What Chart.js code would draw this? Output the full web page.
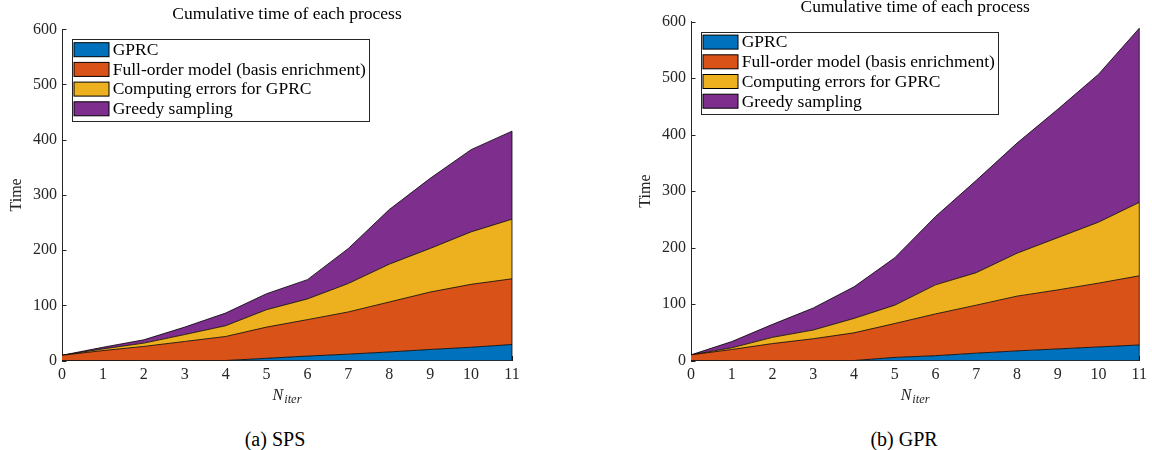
<!DOCTYPE html>
<html>
<head>
<meta charset="utf-8">
<script src="https://cdn.jsdelivr.net/npm/chart.js@4.4.1/dist/chart.umd.min.js"></script>
<style>
  html, body { margin: 0; padding: 0; background: #fff; }
  #fig { position: relative; width: 1152px; height: 450px; overflow: hidden; }
  .panel { position: absolute; top: 0; width: 576px; height: 410px; }
  .panel canvas { display: block; }
  .cap { position: absolute; top: 428px; height: 22px; line-height: 22px;
         font: 20px "Liberation Serif", serif; color: #000; white-space: nowrap;
         transform: translateX(-50%); }
</style>
</head>
<body>
<div id="fig">
  <div class="panel" style="left:0"><canvas id="sps" width="576" height="410"></canvas></div>
  <div class="panel" style="left:576px"><canvas id="gpr" width="576" height="410"></canvas></div>
  <div class="cap" style="left:275px">(a) SPS</div>
  <div class="cap" style="left:904px">(b) GPR</div>
</div>
<script>
// Iteration index on the horizontal axis
const iterations = ['0', '1', '2', '3', '4', '5', '6', '7', '8', '9', '10', '11'];

// Process names (stacking order, bottom to top) and their fill colours
const processNames = ['GPRC', 'Full-order model (basis enrichment)', 'Computing errors for GPRC', 'Greedy sampling'];
const processColors = ['#0072BD', '#D95319', '#EDB120', '#7E2F8E'];

// Time spent in each process, per iteration — SPS run
const gprcSps   = [0, 0, 0, 0, 0, 4, 8, 11.5, 15.5, 20, 24, 29];
const fomSps    = [9.5, 18, 25.5, 34.5, 43.5, 56.5, 66, 76.5, 90.5, 104, 114, 119];
const errSps    = [0, 3, 6, 12.5, 19.5, 31.5, 37.5, 51.5, 68.5, 79, 95, 108];
const greedySps = [0, 3, 6, 13.5, 23, 29, 35, 63.5, 99, 127, 149, 159.5];

// Time spent in each process, per iteration — GPR run
const gprcGpr   = [0, 0, 0, 0, 0, 5.5, 8.5, 13, 17, 20.5, 24, 27.5];
const fomGpr    = [10, 19.5, 30, 38.5, 49, 60, 74, 85, 97, 104.5, 113, 122.5];
const errGpr    = [0, 3, 11, 15.5, 25.5, 32.5, 51.5, 57.5, 76, 92.5, 108, 130];
const greedyGpr = [0, 11, 23, 39, 56, 84, 121, 163.5, 195, 227.5, 262, 308.5];

// Vertical axis range and tick spacing
const timeMin = 0, timeMax = 600, timeStep = 100;

const SERIF = '"Liberation Serif", "Times New Roman", serif';
const AXIS_COLOR = '#262626';

Chart.defaults.font.family = SERIF;
Chart.defaults.color = AXIS_COLOR;

// Inward ticks, closing edge of the areas, boxed legend and the N_iter label
const decorations = {
  id: 'decorations',
  beforeDatasetsDraw(chart) {
    const { ctx, chartArea: ca, scales: { x, y } } = chart;
    ctx.save();
    ctx.strokeStyle = AXIS_COLOR;
    ctx.lineWidth = 1;
    ctx.beginPath();
    y.ticks.forEach(t => {
      const py = Math.round(y.getPixelForValue(t.value)) + 0.5;
      ctx.moveTo(ca.left, py);
      ctx.lineTo(ca.left + 4.5, py);
    });
    x.ticks.forEach((t, i) => {
      const px = Math.round(x.getPixelForTick(i)) + 0.5;
      ctx.moveTo(px, ca.bottom);
      ctx.lineTo(px, ca.bottom - 4.5);
    });
    ctx.stroke();
    ctx.restore();
  },
  afterDatasetsDraw(chart) {
    const { ctx, scales: { y } } = chart;
    const n = chart.data.datasets.length;
    const topPts = chart.getDatasetMeta(n - 1).data;
    const last = topPts[topPts.length - 1];
    ctx.save();
    ctx.strokeStyle = '#000';
    ctx.lineWidth = 0.8;
    ctx.beginPath();
    ctx.moveTo(last.x, last.y);
    ctx.lineTo(last.x, y.getPixelForValue(0));
    ctx.stroke();
    ctx.restore();
  },
  afterDraw(chart) {
    const { ctx, chartArea: ca } = chart;
    const sets = chart.data.datasets;
    ctx.save();

    // legend box in the upper-left corner of the plot
    const bx = ca.left + 9.7, by = ca.top + 10, bw = 297, bh = 81.7;
    ctx.fillStyle = '#fff';
    ctx.fillRect(bx, by, bw, bh);
    ctx.strokeStyle = AXIS_COLOR;
    ctx.lineWidth = 1;
    ctx.strokeRect(Math.round(bx) + 0.5, Math.round(by) + 0.5, Math.round(bw), Math.round(bh));
    ctx.font = '17.5px ' + SERIF;
    ctx.textBaseline = 'alphabetic';
    ctx.textAlign = 'left';
    sets.forEach((ds, i) => {
      const sx = bx + 2.3, sy = by + 3.4 + i * 19.7;
      ctx.fillStyle = ds.backgroundColor;
      ctx.fillRect(sx, sy, 35, 14);
      ctx.strokeStyle = '#000';
      ctx.lineWidth = 1;
      ctx.strokeRect(sx, sy, 35, 14);
      ctx.fillStyle = '#000';
      ctx.fillText(ds.label, sx + 38.7, sy + 12.3);
    });

    // horizontal axis label: N with subscript "iter"
    const main = 'N', sub = 'iter';
    ctx.fillStyle = AXIS_COLOR;
    ctx.font = 'italic 16px ' + SERIF;
    const wMain = ctx.measureText(main).width;
    ctx.font = 'italic 12.5px ' + SERIF;
    const wSub = ctx.measureText(sub).width;
    const x0 = (ca.left + ca.right) / 2 - (wMain + wSub + 1) / 2;
    ctx.font = 'italic 16px ' + SERIF;
    ctx.fillText(main, x0, 400);
    ctx.font = 'italic 12.5px ' + SERIF;
    ctx.fillText(sub, x0 + wMain + 1, 403);
    ctx.restore();
  }
};

function buildChart(canvasId, seriesList, geom) {
  const datasets = seriesList.map((vals, i) => ({
    label: processNames[i],
    data: vals,
    backgroundColor: processColors[i],
    borderColor: '#000',
    borderWidth: 0.8,
    pointRadius: 0,
    pointHoverRadius: 0,
    tension: 0,
    fill: i === 0 ? 'origin' : '-1'
  }));
  return new Chart(document.getElementById(canvasId), {
    type: 'line',
    data: { labels: iterations, datasets },
    plugins: [decorations],
    options: {
      responsive: false,
      animation: false,
      events: [],
      layout: { padding: geom.padding },
      plugins: {
        legend: { display: false },
        tooltip: { enabled: false },
        title: {
          display: true,
          text: 'Cumulative time of each process',
          fullSize: false,
          color: '#000',
          font: { family: SERIF, size: 17.5, weight: 'normal', lineHeight: 0.8 },
          padding: geom.titlePadding
        }
      },
      scales: {
        x: {
          type: 'category',
          offset: false,
          grid: { display: false, drawTicks: false },
          border: { display: true, color: AXIS_COLOR, width: 1 },
          ticks: { padding: 5, color: AXIS_COLOR, font: { family: SERIF, size: 16 }, maxRotation: 0, autoSkip: false },
          afterFit(s) { s.height = 49.5; }
        },
        y: {
          stacked: true,
          min: timeMin,
          max: timeMax,
          grid: { display: false, drawTicks: false },
          border: { display: true, color: AXIS_COLOR, width: 1 },
          ticks: { stepSize: timeStep, padding: 5, color: AXIS_COLOR, font: { family: SERIF, size: 16 } },
          title: { display: true, text: 'Time', color: AXIS_COLOR, font: { family: SERIF, size: 16 }, padding: { top: 7.4, bottom: 0 } },
          afterFit(s) { s.width = 62; }
        }
      }
    }
  });
}

buildChart('sps', [gprcSps, fomSps, errSps, greedySps], {
  padding: { left: 0, right: 64, top: 0, bottom: 0 },
  titlePadding: { top: 7.8, bottom: 7.5 }
});

buildChart('gpr', [gprcGpr, fomGpr, errGpr, greedyGpr], {
  padding: { left: 53, right: 11, top: 0, bottom: 0 },
  titlePadding: { top: 0.4, bottom: 7.3 }
});
</script>
</body>
</html>
